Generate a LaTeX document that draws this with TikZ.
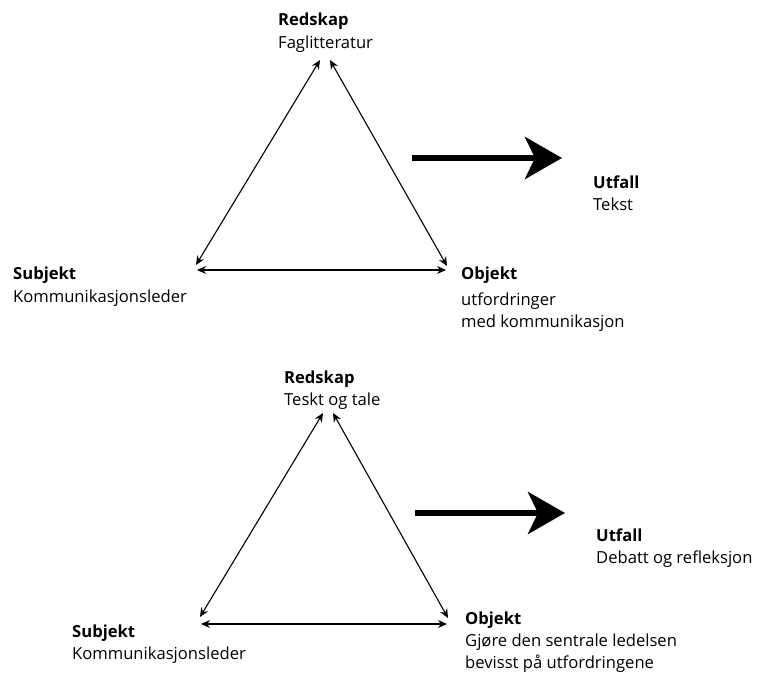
\documentclass[tikz,border=0pt]{standalone}
\usepackage{fontspec}
\setmainfont{Open Sans}
\usetikzlibrary{arrows.meta}
\begin{document}
\begin{tikzpicture}[x=1pt,y=-1pt,
  lbl/.style={anchor=base west,inner sep=0pt,font=\fontsize{16.6}{19}\selectfont},
  head/.style={lbl,font=\fontsize{16.6}{19}\selectfont\bfseries},
  thin/.style={line width=1.1pt,{Stealth[length=9pt,width=8pt]}-{Stealth[length=9pt,width=8pt]}},
  big/.style={line width=6pt,-{Stealth[length=37pt,width=42pt,inset=10pt]}}]
\useasboundingbox (0,0) rectangle (758,675);

% upper triangle
\node[head] (r1) at (278,25) {Redskap};
\node[lbl]  (r1t) at (278,48) {Faglitteratur};
\node[head] (u1) at (593,188) {Utfall};
\node[lbl]  (u1t) at (593,210) {Tekst};
\node[head] (s1) at (13,279) {Subjekt};
\node[lbl]  (s1t) at (13,302) {Kommunikasjonsleder};
\node[head] (o1) at (461,279) {Objekt};
\node[lbl]  (o1t) at (461,305) {utfordringer};
\node[lbl]  (o1u) at (461,327) {med kommunikasjon};

\coordinate (a1l) at (320,60);
\coordinate (a1r) at (330,60);
\coordinate (b1l) at (196,265);
\coordinate (b1r) at (447,266);
\coordinate (h1l) at (197,270);
\coordinate (h1r) at (446,270);
\draw[thin] (a1l) -- (b1l);
\draw[thin] (a1r) -- (b1r);
\draw[thin] (h1l) -- (h1r);
\coordinate (k1a) at (412,158);
\coordinate (k1b) at (562,158);
\draw[big] (k1a) -- (k1b);

% lower triangle
\node[head] (r2) at (284,383) {Redskap};
\node[lbl]  (r2t) at (284,405) {Teskt og tale};
\node[head] (u2) at (596,541) {Utfall};
\node[lbl]  (u2t) at (596,563) {Debatt og refleksjon};
\node[head] (s2) at (72,637) {Subjekt};
\node[lbl]  (s2t) at (72,659) {Kommunikasjonsleder};
\node[head] (o2) at (465,624) {Objekt};
\node[lbl]  (o2t) at (465,646) {Gjøre den sentrale ledelsen};
\node[lbl]  (o2u) at (465,668) {bevisst på utfordringene};

\coordinate (a2l) at (323,413);
\coordinate (a2r) at (333,413);
\coordinate (b2l) at (200,617);
\coordinate (b2r) at (448,618);
\coordinate (h2l) at (201,624);
\coordinate (h2r) at (447,624);
\draw[thin] (a2l) -- (b2l);
\draw[thin] (a2r) -- (b2r);
\draw[thin] (h2l) -- (h2r);
\coordinate (k2a) at (415,513);
\coordinate (k2b) at (565,513);
\draw[big] (k2a) -- (k2b);
\end{tikzpicture}
\end{document}
